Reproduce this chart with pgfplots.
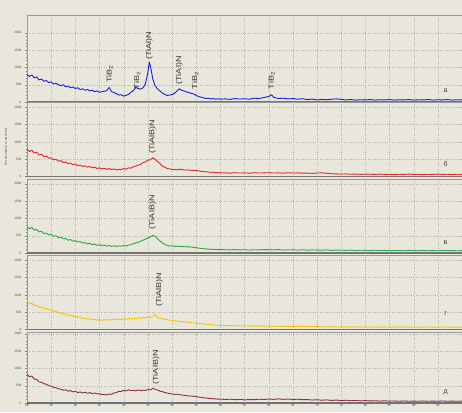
\documentclass[border=0pt]{standalone}
\usepackage{fontspec}
\setmainfont{Liberation Sans}
\usepackage{graphicx}
\usepackage{pgfplots}
\pgfplotsset{compat=1.18}
\definecolor{bg}{RGB}{233,231,219}
\definecolor{cblue}{RGB}{25,25,230}
\definecolor{cred}{RGB}{228,35,40}
\definecolor{cgreen}{RGB}{35,170,70}
\definecolor{cyellow}{RGB}{245,195,0}
\definecolor{cbrown}{RGB}{140,45,65}
\pgfplotsset{panel/.style={scale only axis, width=435pt, xmin=10, xmax=100, ymin=0,
  xtick={10,15,...,95}, extra x ticks={100}, extra x tick labels={},
  ytick={0,500,1000,1500,2000}, minor y tick num=4,
  grid=major, major grid style={dotted, black!30, line width=0.3pt},
  axis line style={black!40, line width=0.4pt},
  tick style={black!50, line width=0.3pt}, major tick length=2pt, minor tick length=1pt,
  tick align=outside, xtick pos=bottom, ytick pos=left,
  tick label style={font=\fontsize{3.2}{4}\selectfont, text=black!70},
  xticklabel style={inner sep=0.5pt, yshift=1pt},
  /pgf/number format/assume math mode=true, /pgf/number format/1000 sep={},
  axis background/.style={fill=bg},
  every axis plot/.append style={line width=0.9pt, line join=round},
  after end axis/.code={\draw[black!55, line width=1.3pt] (rel axis cs:0,0) -- (rel axis cs:1,0);}},
  upper/.style={xticklabels={}, xtick style={draw=none}}}
\tikzset{lab/.style={rotate=90, anchor=west, inner sep=0.5pt, text=black!80, font=\fontsize{7}{8}\selectfont},
  rlet/.style={text=black!75, font=\fontsize{7}{8}\selectfont}}
\newcommand{\sx}[1]{\scalebox{1.3}[1]{#1}}
\begin{document}
\begin{tikzpicture}
\fill[bg] (0,0) rectangle (462pt,412pt);
% panel a
\begin{axis}[panel, upper, at={(27pt,310pt)}, anchor=south west, height=87pt, ymax=2514]
\addplot[cblue] coordinates {(10,790)(10.5,740)(11,780)(11.5,700)(12,720)(12.5,640)(13,660)(13.5,600)(14,620)(14.5,560)(15,580)(15.5,520)(16,540)(16.5,500)(17,470)(17.5,500)(18,440)(18.5,460)(19,410)(19.5,430)(20,390)(20.5,410)(21,360)(21.5,380)(22,340)(22.5,360)(23,320)(23.5,340)(24,300)(24.5,320)(25,280)(25.5,300)(26,310)(26.5,330)(27,420)(27.5,300)(28,270)(28.5,240)(29,200)(29.5,210)(30,170)(30.5,190)(31,220)(31.5,280)(32,330)(32.5,420)(33,390)(33.5,370)(34,410)(34.5,520)(35,850)(35.3,1150)(35.6,1000)(36,680)(36.5,470)(37,380)(37.5,320)(38,260)(38.5,220)(39,190)(39.5,200)(40,210)(40.5,250)(41,310)(41.5,380)(42,340)(42.5,320)(43,290)(43.5,270)(44,250)(44.5,230)(45,190)(45.5,160)(46,140)(46.5,120)(47,100)(47.5,110)(48,90)(48.5,100)(49,80)(49.5,95)(50,80)(51,90)(52,75)(53,100)(54,85)(55,95)(56,80)(57,110)(58,100)(59,130)(60,160)(60.6,210)(61,140)(62,100)(63,110)(64,90)(65,100)(66,80)(67,95)(68,70)(69,85)(70,60)(71,75)(72,65)(73,80)(74,90)(75,75)(76,60)(77,70)(78,55)(79,65)(80,60)(81,70)(82,55)(83,65)(84,60)(85,70)(86,55)(87,65)(88,60)(89,70)(90,55)(91,65)(92,60)(93,70)(94,55)(95,65)(96,60)(97,70)(98,55)(99,65)(100,60)};
\node[lab] at (axis cs:27.1,540) {\sx{TiB\textsubscript{2}}};
\node[lab] at (axis cs:32.8,350) {\sx{TiB\textsubscript{2}}};
\node[lab] at (axis cs:35.3,1210) {\sx{(TiAl)N}};
\node[lab] at (axis cs:41.5,490) {\sx{(TiAl)N}};
\node[lab] at (axis cs:44.8,350) {\sx{TiB\textsubscript{2}}};
\node[lab] at (axis cs:60.6,350) {\sx{TiB\textsubscript{2}}};
\node[rlet] at (axis cs:96.6,320) {а};
\end{axis}
% panel b
\begin{axis}[panel, upper, at={(27pt,235.5pt)}, anchor=south west, height=74pt, ymax=2139,
  ylabel={Интенсивность (имп/сек)}, ylabel style={font=\fontsize{3.2}{4}\selectfont, text=black!70, at={(ticklabel cs:0.4)}}]
\addplot[cred] coordinates {(10,800)(10.5,720)(11,760)(11.5,680)(12,700)(12.5,620)(13,640)(13.5,570)(14,590)(14.5,530)(15,540)(15.5,480)(16,500)(16.5,440)(17,460)(17.5,400)(18,420)(18.5,370)(19,390)(19.5,340)(20,360)(20.5,310)(21,330)(21.5,290)(22,310)(22.5,270)(23,290)(23.5,250)(24,270)(24.5,230)(25,250)(25.5,220)(26,240)(26.5,210)(27,230)(27.5,200)(28,220)(28.5,190)(29,210)(29.5,200)(30,230)(30.5,210)(31,250)(31.5,240)(32,280)(32.5,300)(33,330)(33.5,350)(34,400)(34.5,420)(35,470)(35.5,480)(36,540)(36.5,500)(37,430)(37.5,380)(38,300)(38.5,270)(39,230)(39.5,220)(40,200)(40.5,210)(41,190)(41.5,210)(42,200)(42.5,190)(43,185)(43.5,190)(44,175)(44.5,180)(45,170)(45.5,165)(46,150)(46.5,145)(47,135)(47.5,130)(48,120)(48.5,125)(49,110)(49.5,115)(50,105)(51,105)(52,95)(53,110)(54,100)(55,105)(56,95)(57,110)(58,100)(59,105)(60,110)(61,100)(62,105)(63,95)(64,110)(65,100)(66,105)(67,95)(68,100)(69,90)(70,100)(71,105)(72,95)(73,80)(74,75)(75,70)(76,75)(77,65)(78,70)(79,60)(80,70)(81,65)(82,60)(83,70)(84,60)(85,65)(86,55)(87,65)(88,60)(89,70)(90,60)(91,65)(92,55)(93,65)(94,60)(95,70)(96,60)(97,65)(98,55)(99,65)(100,60)};
\node[lab] at (axis cs:36,640) {\sx{(TiAlB)N}};
\node[rlet] at (axis cs:96.6,350) {б};
\end{axis}
% panel c
\begin{axis}[panel, upper, at={(27pt,159pt)}, anchor=south west, height=74pt, ymax=2139]
\addplot[cgreen] coordinates {(10,760)(10.5,700)(11,740)(11.5,660)(12,680)(12.5,610)(13,630)(13.5,560)(14,580)(14.5,520)(15,540)(15.5,480)(16,500)(16.5,440)(17,460)(17.5,410)(18,420)(18.5,370)(19,390)(19.5,340)(20,360)(20.5,320)(21,330)(21.5,290)(22,300)(22.5,260)(23,280)(23.5,240)(24,260)(24.5,220)(25,240)(25.5,210)(26,230)(26.5,200)(27,220)(27.5,190)(28,210)(28.5,190)(29,205)(29.5,195)(30,215)(30.5,200)(31,230)(31.5,240)(32,270)(32.5,290)(33,310)(33.5,340)(34,370)(34.5,400)(35,430)(35.5,460)(36,510)(36.5,480)(37,410)(37.5,350)(38,290)(38.5,250)(39,220)(39.5,200)(40,210)(40.5,190)(41,200)(41.5,185)(42,195)(42.5,180)(43,185)(43.5,170)(44,175)(44.5,160)(45,155)(45.5,140)(46,135)(46.5,125)(47,120)(47.5,110)(48,110)(48.5,100)(49,105)(49.5,95)(50,100)(51,95)(52,90)(53,100)(54,90)(55,95)(56,85)(57,95)(58,90)(59,100)(60,95)(61,90)(62,100)(63,85)(64,95)(65,90)(66,85)(67,95)(68,80)(69,90)(70,85)(71,80)(72,90)(73,75)(74,85)(75,80)(76,75)(77,85)(78,70)(79,80)(80,75)(81,70)(82,80)(83,70)(84,75)(85,65)(86,75)(87,70)(88,65)(89,75)(90,70)(91,65)(92,75)(93,65)(94,70)(95,65)(96,75)(97,65)(98,70)(99,65)(100,70)};
\node[lab] at (axis cs:36,665) {\sx{(TiAlB)N}};
\node[rlet] at (axis cs:96.6,290) {в};
\end{axis}
% panel d
\begin{axis}[panel, upper, at={(27pt,82.5pt)}, anchor=south west, height=74pt, ymax=2139]
\addplot[cyellow] coordinates {(10,830)(10.5,740)(11,760)(11.5,690)(12,700)(12.5,640)(13,650)(13.5,600)(14,610)(14.5,560)(15,570)(15.5,520)(16,530)(16.5,480)(17,490)(17.5,440)(18,450)(18.5,410)(19,420)(19.5,380)(20,390)(20.5,350)(21,360)(21.5,320)(22,330)(22.5,300)(23,310)(23.5,280)(24,295)(24.5,270)(25,290)(25.5,265)(26,285)(26.5,270)(27,290)(27.5,275)(28,300)(28.5,280)(29,305)(29.5,285)(30,310)(30.5,295)(31,320)(31.5,300)(32,330)(32.5,310)(33,340)(33.5,320)(34,350)(34.5,340)(35,360)(35.5,350)(36,380)(36.5,440)(37,350)(37.5,320)(38,310)(38.5,290)(39,280)(39.5,270)(40,265)(40.5,250)(41,245)(41.5,235)(42,230)(42.5,220)(43,215)(43.5,205)(44,200)(44.5,190)(45,185)(45.5,175)(46,170)(46.5,160)(47,155)(47.5,145)(48,140)(48.5,130)(49,125)(49.5,120)(50,115)(51,110)(52,115)(53,105)(54,110)(55,100)(56,105)(57,95)(58,100)(59,95)(60,100)(61,90)(62,95)(63,85)(64,90)(65,85)(66,90)(67,80)(68,85)(69,80)(70,85)(71,75)(72,80)(73,75)(74,80)(75,75)(76,80)(77,70)(78,75)(79,70)(80,75)(81,70)(82,75)(83,65)(84,75)(85,70)(86,65)(87,75)(88,70)(89,65)(90,75)(91,70)(92,65)(93,75)(94,70)(95,65)(96,75)(97,70)(98,65)(99,70)(100,70)};
\node[lab] at (axis cs:37.4,635) {\sx{(TiAlB)N}};
\node[rlet] at (axis cs:96.6,460) {г};
\end{axis}
% panel e
\begin{axis}[panel, at={(27pt,9pt)}, anchor=south west, height=71pt, ymax=2052]
\addplot[cbrown] coordinates {(10,830)(10.5,760)(11,780)(11.5,690)(12,680)(12.5,610)(13,600)(13.5,560)(14,540)(14.5,500)(15,490)(15.5,450)(16,440)(16.5,410)(17,400)(17.5,370)(18,380)(18.5,340)(19,360)(19.5,320)(20,340)(20.5,300)(21,320)(21.5,290)(22,310)(22.5,280)(23,300)(23.5,270)(24,290)(24.5,260)(25,270)(25.5,240)(26,250)(26.5,230)(27,260)(27.5,250)(28,290)(28.5,300)(29,340)(29.5,330)(30,370)(30.5,350)(31,380)(31.5,360)(32,370)(32.5,350)(33,380)(33.5,360)(34,370)(34.5,360)(35,390)(35.5,380)(36,420)(36.5,400)(37,370)(37.5,340)(38,330)(38.5,300)(39,290)(39.5,270)(40,265)(40.5,250)(41,255)(41.5,240)(42,235)(42.5,220)(43,215)(43.5,200)(44,205)(44.5,190)(45,185)(45.5,170)(46,165)(46.5,150)(47,145)(47.5,135)(48,130)(48.5,120)(49,120)(49.5,110)(50,115)(51,100)(52,110)(53,95)(54,105)(55,90)(56,100)(57,95)(58,110)(59,100)(60,115)(61,105)(62,120)(63,105)(64,115)(65,100)(66,110)(67,95)(68,100)(69,85)(70,95)(71,80)(72,90)(73,75)(74,85)(75,70)(76,80)(77,65)(78,75)(79,60)(80,70)(81,60)(82,65)(83,55)(84,65)(85,55)(86,60)(87,50)(88,60)(89,50)(90,55)(91,50)(92,60)(93,50)(94,55)(95,50)(96,60)(97,50)(98,55)(99,50)(100,55)};
\node[lab] at (axis cs:36.7,520) {\sx{(TiAlB)N}};
\node[rlet] at (axis cs:96.6,320) {д};
\end{axis}
\pgfresetboundingbox
\useasboundingbox (0,0) rectangle (462pt,412pt);
\end{tikzpicture}
\end{document}
